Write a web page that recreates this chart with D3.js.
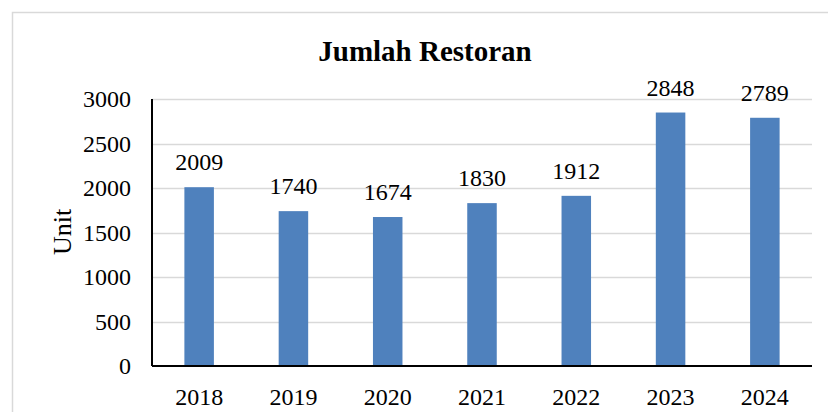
<!DOCTYPE html>
<html>
<head>
<meta charset="utf-8">
<script src="https://cdn.jsdelivr.net/npm/d3@7"></script>
<style>
html,body{margin:0;padding:0;background:#fff;}
svg{display:block;font-family:"Liberation Serif","Times New Roman",serif;}
</style>
</head>
<body>
<svg id="chart" width="828" height="412"></svg>
<script>
const categories = ["2018","2019","2020","2021","2022","2023","2024"];
const values = [2009,1740,1674,1830,1912,2848,2789];
const yTicks = [0,500,1000,1500,2000,2500,3000];
const title = "Jumlah Restoran";
const yLabel = "Unit";

const svg = d3.select("#chart");
const m = {left:152, right:812, top:99, bottom:366};

// outer frame
svg.append("rect").attr("x",12.5).attr("y",12.5).attr("width",830).attr("height",420)
  .attr("fill","none").attr("stroke","#d9d9d9").attr("stroke-width",1.5);

const x = d3.scaleBand().domain(categories).range([m.left,m.right]).paddingInner(0.687).paddingOuter(0.3435);
const y = d3.scaleLinear().domain([0,3000]).range([m.bottom,m.top]);

// gridlines
svg.append("g").selectAll("line").data(yTicks.filter(d=>d>0)).join("line")
  .attr("x1",m.left).attr("x2",m.right)
  .attr("y1",d=>Math.round(y(d))+0.5).attr("y2",d=>Math.round(y(d))+0.5)
  .attr("stroke","#d9d9d9").attr("stroke-width",1.5);

// bars
svg.append("g").selectAll("rect").data(values).join("rect")
  .attr("x",(d,i)=>x(categories[i]))
  .attr("width",x.bandwidth())
  .attr("y",d=>y(d))
  .attr("height",d=>y(0)-y(d))
  .attr("fill","#4f81bd");

// value labels
svg.append("g").selectAll("text").data(values).join("text")
  .attr("x",(d,i)=>x(categories[i])+x.bandwidth()/2)
  .attr("y",d=>y(d)-17)
  .attr("text-anchor","middle")
  .attr("font-size",24)
  .attr("fill","#000")
  .text(d=>d);

// y axis
const yAxis = d3.axisLeft(y).tickValues(yTicks).tickSize(0).tickPadding(21).tickFormat(d3.format("d"));
const gy = svg.append("g").attr("transform",`translate(${m.left},0)`).call(yAxis);
gy.select(".domain").remove();
gy.selectAll("text").attr("font-size",24).attr("font-family","Liberation Serif").attr("fill","#000");

// x axis
const xAxis = d3.axisBottom(x).tickSize(0).tickPadding(22);
const gx = svg.append("g").attr("transform",`translate(0,${m.bottom})`).call(xAxis);
gx.select(".domain").remove();
gx.selectAll("text").attr("font-size",24).attr("font-family","Liberation Serif").attr("fill","#000");

// axis lines
svg.append("line").attr("x1",m.left).attr("x2",m.right).attr("y1",m.bottom).attr("y2",m.bottom)
  .attr("stroke","#000").attr("stroke-width",2);
svg.append("line").attr("x1",m.left).attr("x2",m.left).attr("y1",m.top).attr("y2",m.bottom)
  .attr("stroke","#000").attr("stroke-width",2);

// title
svg.append("text").attr("x",425).attr("y",61).attr("text-anchor","middle")
  .attr("font-size",29).attr("font-weight","bold").text(title);

// y label
svg.append("text").attr("transform","translate(71,232) rotate(-90)").attr("text-anchor","middle")
  .attr("font-size",26).text(yLabel);
</script>
</body>
</html>
